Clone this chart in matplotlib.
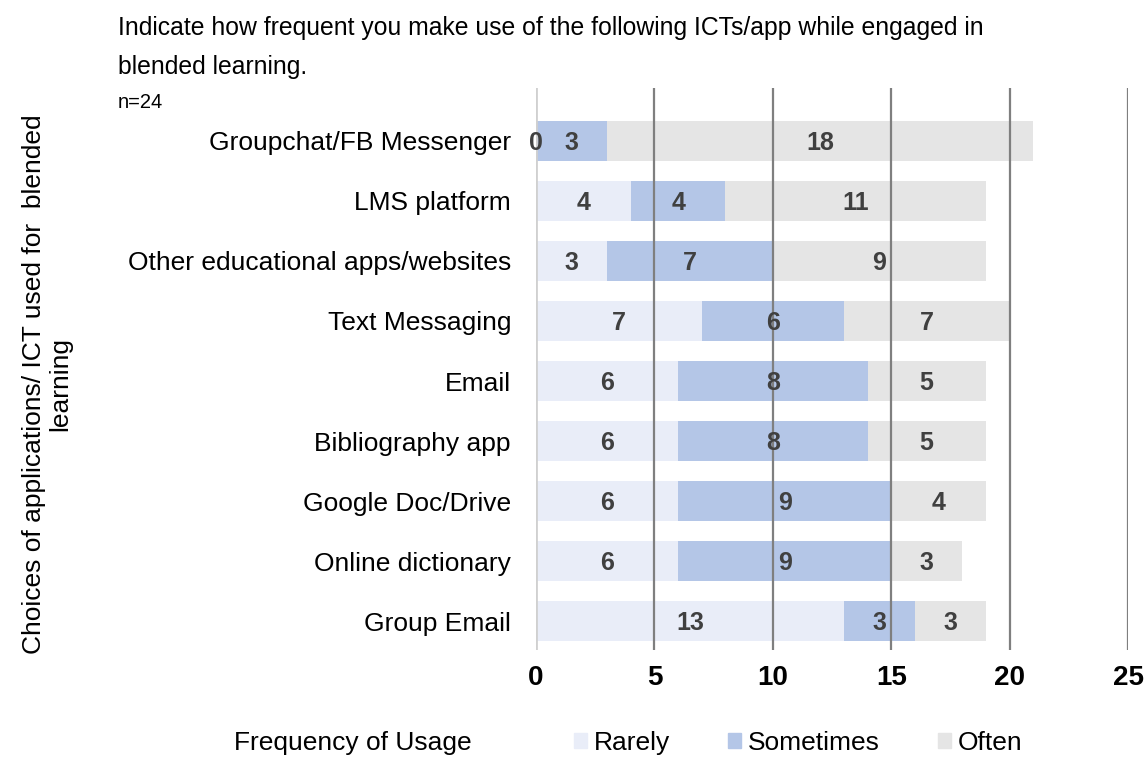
import matplotlib
matplotlib.use("Agg")
import matplotlib.pyplot as plt
import numpy as np
from matplotlib.patches import Patch

plt.rcParams['font.family'] = ['Liberation Sans', 'DejaVu Sans']

categories = ["Groupchat/FB Messenger", "LMS platform", "Other educational apps/websites",
              "Text Messaging", "Email", "Bibliography app", "Google Doc/Drive",
              "Online dictionary", "Group Email"]
rarely = [0, 4, 3, 7, 6, 6, 6, 6, 13]
sometimes = [3, 4, 7, 6, 8, 8, 9, 9, 3]
often = [18, 11, 9, 7, 5, 5, 4, 3, 3]
series_names = ["Rarely", "Sometimes", "Often"]
colors = ["#e9edf8", "#b4c6e7", "#e5e5e5"]
xticks = [0, 5, 10, 15, 20, 25]

fig = plt.figure(figsize=(11.48, 7.58), dpi=100)
ax = fig.add_axes([536/1148, 1-650/758, (1128-536)/1148, (650-88)/758])

y = np.arange(len(categories))
left = np.zeros(len(categories))
for vals, col in zip([rarely, sometimes, often], colors):
    vals = np.array(vals, dtype=float)
    ax.barh(y, vals, left=left, height=0.67, color=col, zorder=1)
    for yi, l, v in zip(y, left, vals):
        ax.text(l + v/2, yi + 0.03, f"{int(v)}", ha='center', va='center', fontsize=18,
                fontweight='bold', color='#404040', zorder=3)
    left += vals

ax.set_xlim(0, 25)
ax.set_ylim(8.483, -0.883)
for xv in xticks:
    if xv == 0:
        ax.axvline(xv, color='#d0d0d0', lw=2, zorder=2)
    else:
        ax.axvline(xv, color='#7f7f7f', lw=1.6, zorder=2)
for s in ax.spines.values():
    s.set_visible(False)
ax.set_yticks(y)
ax.set_yticklabels(categories, fontsize=19)
ax.tick_params(axis='y', length=0, pad=18)
ax.set_xticks(xticks)
ax.set_xticklabels([str(v) for v in xticks], fontsize=20, fontweight='bold')
ax.tick_params(axis='x', length=0, pad=11)

fig.text(118/1148, 1-28/758, "Indicate how frequent you make use of the following ICTs/app while engaged in",
         fontsize=17.8, va='center', ha='left')
fig.text(118/1148, 1-67/758, "blended learning.", fontsize=17.8, va='center', ha='left')
fig.text(118/1148, 1-102/758, "n=24", fontsize=14.5, va='center', ha='left')

fig.text(47/1148, 1-384/758, "Choices of applications/ ICT used for  blended\nlearning",
         rotation=90, ha='center', va='center', fontsize=19, multialignment='center',
         linespacing=1.1)

fig.text(353/1148, 1-743/758, "Frequency of Usage", fontsize=19, ha='center', va='center')
handles = [Patch(color=c, label=n) for c, n in zip(colors, series_names)]
leg = fig.legend(handles=handles, loc='center', bbox_to_anchor=(798/1148, 1-743/758),
                 ncol=3, frameon=False, fontsize=19, handlelength=0.5, handleheight=0.5,
                 handletextpad=0.25, columnspacing=2.2)

fig.savefig("out.png", dpi=100)
